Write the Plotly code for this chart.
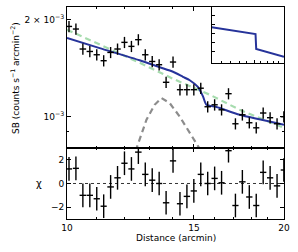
import plotly.graph_objects as go

# ---- data ----
dist = [10.064, 10.289, 10.520, 10.756, 10.997, 11.243, 11.495, 11.752, 12.015, 12.285,
        12.560, 12.841, 13.129, 13.423, 13.724, 14.031, 14.345, 14.667, 14.995, 15.331,
        15.674, 16.025, 16.384, 16.751, 17.126, 17.510, 17.902, 18.303, 18.713, 19.132,
        19.561, 19.990]
dist_err = [0.10, 0.10, 0.11, 0.11, 0.11, 0.11, 0.12, 0.12, 0.12, 0.12, 0.13, 0.13, 0.13,
            0.13, 0.14, 0.14, 0.14, 0.15, 0.15, 0.15, 0.16, 0.16, 0.16, 0.17, 0.17, 0.18,
            0.18, 0.18, 0.19, 0.19, 0.20, 0.20]
sb = [1.906e-3, 1.871e-3, 1.622e-3, 1.594e-3, 1.557e-3, 1.492e-3, 1.583e-3, 1.622e-3,
      1.701e-3, 1.653e-3, 1.734e-3, 1.557e-3, 1.484e-3, 1.450e-3, 1.279e-3, 1.478e-3,
      1.213e-3, 1.213e-3, 1.213e-3, 1.226e-3, 1.074e-3, 1.089e-3, 1.051e-3, 1.179e-3,
      9.51e-4, 1.014e-3, 9.58e-4, 9.24e-4, 1.027e-3, 9.93e-4, 9.51e-4, 1.0e-3]
sb_err = [7.6e-5, 7.5e-5, 6.5e-5, 6.4e-5, 6.2e-5, 6.0e-5, 6.3e-5, 6.5e-5, 6.8e-5, 6.6e-5,
          6.9e-5, 6.2e-5, 5.9e-5, 5.8e-5, 5.1e-5, 5.9e-5, 4.9e-5, 4.9e-5, 4.9e-5, 4.9e-5,
          4.3e-5, 4.4e-5, 4.2e-5, 4.7e-5, 3.8e-5, 4.1e-5, 3.8e-5, 3.7e-5, 4.1e-5, 4.0e-5,
          3.8e-5, 4.0e-5]
resid = [1.23, 1.28, -1.0, -1.0, -1.29, -1.92, -0.29, 0.48, 1.71, 1.23, 2.65, 0.77, 0.28,
         0.0, -1.63, 1.91, -1.71, -1.09, -0.63, 0.77, 0.0, 0.43, 0.06, 2.77, -1.86, 0.14,
         -1.14, -1.86, 0.94, 0.48, -0.2, 1.14]
resid_err = [1.0] * 32

model_x = [10.0, 11.10, 12.61, 13.45, 14.03, 14.48, 14.80, 15.19, 15.44, 15.61, 16.12, 17.36, 20.0]
model_y = [1.754e-3, 1.632e-3, 1.497e-3, 1.424e-3, 1.379e-3, 1.330e-3, 1.298e-3, 1.237e-3,
           1.156e-3, 1.089e-3, 1.072e-3, 1.014e-3, 9.45e-4]
smooth_x = [10.0, 12.61, 14.02, 15.78, 17.36, 20.0]
smooth_y = [1.862e-3, 1.471e-3, 1.312e-3, 1.170e-3, 1.051e-3, 9.24e-4]
shell_x = [12.30, 12.48, 12.89, 13.23, 13.52, 13.88, 14.33, 14.80, 15.28, 15.45]
shell_y = [6.8e-4, 7.95e-4, 9.79e-4, 1.089e-3, 1.143e-3, 1.103e-3, 1.002e-3, 8.90e-4, 7.95e-4, 7.0e-4]
inset_x = [10.0, 15.22, 15.32, 20.0]
inset_y = [0.636, 0.515, 0.246, 0.108]

FONT = "DejaVu Sans"
fig = go.Figure()

fig.add_trace(go.Scatter(x=shell_x, y=shell_y, mode="lines", xaxis="x", yaxis="y",
                         line=dict(color="#8c8c8c", width=2.2, dash="6px,4px")))
fig.add_trace(go.Scatter(x=smooth_x, y=smooth_y, mode="lines", xaxis="x", yaxis="y",
                         line=dict(color="#a6dcae", width=2.2, dash="6px,4px")))
fig.add_trace(go.Scatter(x=model_x, y=model_y, mode="lines", xaxis="x", yaxis="y",
                         line=dict(color="#26339a", width=2, shape="spline", smoothing=0.6)))
fig.add_trace(go.Scatter(x=dist, y=sb, mode="markers", xaxis="x", yaxis="y",
                         marker=dict(size=0.1, color="black"),
                         error_x=dict(type="data", array=dist_err, color="black", thickness=1.4, width=0),
                         error_y=dict(type="data", array=sb_err, color="black", thickness=1.4, width=0)))
fig.add_trace(go.Scatter(x=dist, y=resid, mode="markers", xaxis="x2", yaxis="y2",
                         marker=dict(size=0.1, color="black"),
                         error_x=dict(type="data", array=dist_err, color="black", thickness=1.4, width=0),
                         error_y=dict(type="data", array=resid_err, color="black", thickness=1.4, width=0)))
fig.add_trace(go.Scatter(x=inset_x, y=inset_y, mode="lines", xaxis="x3", yaxis="y3",
                         line=dict(color="#26339a", width=2)))

axis_common = dict(showline=True, linecolor="black", linewidth=1, mirror="allticks",
                   ticks="inside", tickcolor="black", ticklen=4, tickwidth=1,
                   showgrid=False, zeroline=False,
                   tickfont=dict(family=FONT, size=9, color="black"))
minor_x = dict(tickvals=[11, 12, 13, 14, 16, 17, 18, 19], ticks="inside", ticklen=2,
               tickcolor="black", tickwidth=1, showgrid=False)

fig.update_layout(
    width=298, height=252,
    margin=dict(l=67, r=14, t=7, b=33, autoexpand=False),
    paper_bgcolor="white", plot_bgcolor="white",
    showlegend=False,
    xaxis=dict(type="log", range=[1, 1.30103], domain=[0, 1], anchor="y",
               tickvals=[10, 15, 20], showticklabels=False, minor=minor_x, **axis_common),
    yaxis=dict(type="log", range=[-3.0969, -2.6596], domain=[0.335, 1], anchor="x",
               tickvals=[1e-3, 2e-3], ticktext=["10<sup>−3</sup>", "2 × 10<sup>−3</sup>"],
               minor=dict(tickvals=[8e-4, 9e-4], ticks="inside", ticklen=2,
                          tickcolor="black", tickwidth=1, showgrid=False),
               **axis_common),
    xaxis2=dict(type="log", range=[1, 1.30103], domain=[0, 1], anchor="y2",
                tickvals=[10, 15, 20], ticktext=["10", "15", "20"], minor=minor_x,
                **axis_common),
    yaxis2=dict(range=[-3, 3], domain=[0, 0.335], anchor="x2",
                tickvals=[-2, 0, 2], **axis_common),
    xaxis3=dict(type="log", range=[1, 1.30103], domain=[0.667, 1], anchor="y3",
                tickvals=[10, 15, 20], showticklabels=False,
                minor=dict(tickvals=[11, 12, 13, 14, 16, 17, 18, 19], ticks="inside", ticklen=2,
                           tickcolor="black", tickwidth=1, showgrid=False),
                showline=True, linecolor="black", linewidth=1, mirror=True,
                ticks="inside", tickcolor="black", ticklen=3, showgrid=False, zeroline=False),
    yaxis3=dict(range=[0, 1.0], domain=[0.737, 1], anchor="x3",
                tickvals=[0.2, 0.36, 0.52, 0.68, 0.84], showticklabels=False,
                showline=True, linecolor="black", linewidth=1, mirror=True,
                ticks="inside", tickcolor="black", ticklen=3, showgrid=False, zeroline=False),
    shapes=[dict(type="line", xref="x2 domain", yref="y2", x0=0, x1=1, y0=0, y1=0,
                 line=dict(color="black", width=0.8, dash="dot"))],
    annotations=[
        dict(text="SB (counts s<sup>−1</sup> arcmin<sup>−2</sup>)", textangle=-90,
             xref="paper", yref="paper", x=-0.24, y=0.665, xanchor="center", yanchor="middle",
             showarrow=False, font=dict(family=FONT, size=9, color="black")),
        dict(text="χ", xref="paper", yref="paper", x=-0.13, y=0.168,
             xanchor="center", yanchor="middle", showarrow=False,
             font=dict(family=FONT, size=10, color="black")),
        dict(text="Distance (arcmin)", xref="paper", yref="paper", x=0.5, y=-0.09,
             xanchor="center", yanchor="middle", showarrow=False,
             font=dict(family=FONT, size=9, color="black")),
    ],
)

fig.write_html("out.html", config={"displayModeBar": False},
               post_script="document.body.style.margin='0';")
